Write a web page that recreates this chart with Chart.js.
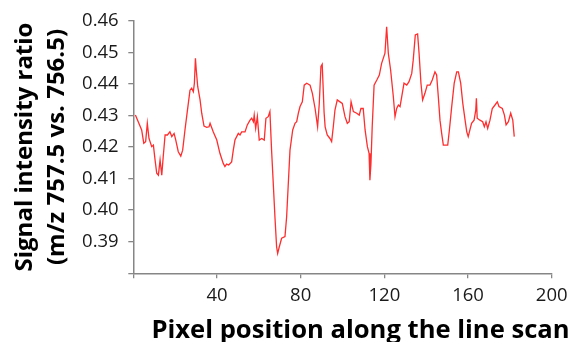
<!DOCTYPE html>
<html>
<head>
<meta charset="utf-8">
<script src="https://cdn.jsdelivr.net/npm/chart.js@4/dist/chart.umd.min.js"></script>
<style>
  html, body { margin: 0; padding: 0; background: #ffffff; }
  #wrap { width: 574px; height: 342px; }
</style>
</head>
<body>
<div id="wrap"><canvas id="scan" width="574" height="342"></canvas></div>
<script>
// Pixel positions along the line scan and the measured intensity ratio at each.
const pixelPosition = [
  1, 4, 5, 5.9, 6.7, 7.5, 8.8, 9.6, 10.4, 11.2, 12, 12.8, 13.6, 14.3, 15.2, 16.3, 17.5, 18.4, 19.5, 20.3,
  21.5, 22.7, 23.6, 24.7, 25.8, 27.1, 27.9, 28.7, 29.2, 29.7, 30.1, 30.8, 31.9, 32.7, 33.8, 35.1, 36.2, 36.7, 38.2, 39.9,
  41.4, 43, 43.8, 44.6, 45.6, 47, 47.8, 48.6, 50.2, 51, 51.8, 53.4, 54.5, 55.8, 56.6, 57.4, 57.8, 58.5, 59.3, 60.2,
  61.4, 62.6, 63.4, 64.5, 65.3, 66.1, 66.9, 67.7, 68.5, 69, 69.8, 70.9, 72.5, 73.3, 74.1, 74.9, 76.2, 77.3, 78.1, 78.9,
  79.7, 80.8, 81.7, 82.9, 84.5, 85.6, 86.9, 88.1, 88.9, 89.7, 90.3, 90.8, 91.2, 91.7, 92.7, 94, 94.8, 95.6, 96.4, 97.5,
  98.8, 99.9, 101.2, 102.3, 103.2, 104.1, 105.2, 106.8, 108, 108.8, 109.9, 110.8, 111.9, 112.7, 113.1, 113.6, 114.2, 115.1, 116.4, 117.6,
  118.7, 120.3, 121.1, 121.9, 123, 124.3, 125.1, 125.9, 126.7, 127.5, 128.3, 129.4, 130.7, 131.8, 133.1, 133.8, 134.8, 135.9, 136.6, 137.5,
  138.3, 139.4, 140.5, 141.8, 142.9, 144.2, 145, 145.8, 146.6, 147.4, 148.2, 149.3, 150.3, 151.1, 152.2, 153.4, 154.6, 155.4, 156.5, 157.5,
  158.6, 159.4, 160.1, 160.9, 161.7, 162.9, 163.7, 164, 164.4, 165.7, 167, 167.8, 168.6, 169.4, 170.5, 171.6, 172.9, 174, 174.8, 176.4,
  177.4, 178.2, 179.3, 180.4, 181.4, 182.1
];

const intensityRatio = [
  0.4301, 0.4254, 0.4212, 0.4217, 0.4275, 0.4227, 0.4201, 0.4206, 0.4159, 0.4117, 0.4111, 0.4159, 0.4111, 0.4169, 0.4238, 0.4238, 0.4248, 0.4233, 0.4243, 0.4222,
  0.4185, 0.4171, 0.4190, 0.4254, 0.4312, 0.4380, 0.4386, 0.4375, 0.4402, 0.4481, 0.4444, 0.4391, 0.4350, 0.4307, 0.4266, 0.4262, 0.4264, 0.4275, 0.4248, 0.4222,
  0.4180, 0.4148, 0.4138, 0.4146, 0.4143, 0.4153, 0.4190, 0.4222, 0.4243, 0.4238, 0.4248, 0.4248, 0.4270, 0.4285, 0.4291, 0.4280, 0.4301, 0.4259, 0.4296, 0.4222,
  0.4227, 0.4222, 0.4291, 0.4296, 0.4312, 0.4190, 0.4085, 0.3979, 0.3884, 0.3863, 0.3884, 0.3911, 0.3916, 0.3979, 0.4085, 0.4190, 0.4254, 0.4275, 0.4280, 0.4307,
  0.4328, 0.4343, 0.4396, 0.4402, 0.4396, 0.4370, 0.4322, 0.4264, 0.4338, 0.4455, 0.4462, 0.4380, 0.4310, 0.4264, 0.4238, 0.4227, 0.4217, 0.4264, 0.4317, 0.4349,
  0.4343, 0.4338, 0.4296, 0.4275, 0.4280, 0.4343, 0.4312, 0.4307, 0.4301, 0.4322, 0.4322, 0.4254, 0.4201, 0.4180, 0.4095, 0.4148, 0.4264, 0.4396, 0.4412, 0.4428,
  0.4465, 0.4497, 0.4581, 0.4497, 0.4444, 0.4359, 0.4296, 0.4322, 0.4333, 0.4328, 0.4359, 0.4402, 0.4396, 0.4407, 0.4433, 0.4475, 0.4555, 0.4558, 0.4497, 0.4402,
  0.4349, 0.4370, 0.4396, 0.4396, 0.4412, 0.4438, 0.4428, 0.4359, 0.4285, 0.4243, 0.4206, 0.4206, 0.4206, 0.4254, 0.4328, 0.4402, 0.4438, 0.4438, 0.4402, 0.4338,
  0.4285, 0.4248, 0.4233, 0.4254, 0.4275, 0.4285, 0.4317, 0.4354, 0.4291, 0.4285, 0.4280, 0.4264, 0.4280, 0.4259, 0.4285, 0.4322, 0.4333, 0.4343, 0.4328, 0.4322,
  0.4301, 0.4270, 0.4280, 0.4307, 0.4285, 0.4233
];

// Axis ranges and titles
const xRange = { min: 0, max: 200, step: 40 };
const yRange = { min: 0.38, max: 0.46, step: 0.01 };
const xTitle = 'Pixel position along the line scan';
const yTitle = ['Signal intensity ratio', '(m/z 757.5 vs. 756.5)'];

const points = pixelPosition.map((x, i) => ({ x: x, y: intensityRatio[i] }));

const axisGray = '#868686';
const textColor = '#1a1a1a';

// Horizontal axis title, set a little right of the plot centre and close to the bottom edge.
const xTitlePlugin = {
  id: 'xAxisTitle',
  afterDraw(chart) {
    const ctx = chart.ctx;
    const sx = chart.scales.x;
    ctx.save();
    ctx.font = 'bold 25.6px "Open Sans"';
    ctx.fillStyle = '#000000';
    ctx.textAlign = 'center';
    ctx.textBaseline = 'middle';
    ctx.fillText(xTitle, (sx.left + sx.right) / 2 + 18, chart.height - 11);
    ctx.restore();
  }
};

new Chart(document.getElementById('scan'), {
  type: 'line',
  data: {
    datasets: [{
      data: points,
      borderColor: 'rgb(255, 45, 45)',
      borderWidth: 1.3,
      pointRadius: 0,
      tension: 0,
      fill: false
    }]
  },
  plugins: [xTitlePlugin],
  options: {
    responsive: false,
    animation: false,
    layout: { padding: { left: 0, right: 22.3, top: 20.7, bottom: 0 } },
    plugins: { legend: { display: false }, tooltip: { enabled: false } },
    scales: {
      x: {
        type: 'linear',
        min: xRange.min,
        max: xRange.max,
        afterFit: s => { s.height = 68.7; },
        ticks: {
          stepSize: xRange.step,
          color: textColor,
          padding: 6,
          font: { family: 'Open Sans', size: 18.5 },
          maxRotation: 0,
          callback: v => (v === 0 ? '' : String(v))
        },
        grid: { drawOnChartArea: false, drawTicks: true, tickLength: 5, color: axisGray, lineWidth: 1.3 },
        border: { display: true, color: axisGray, width: 1.5 },
        title: { display: false }
      },
      y: {
        type: 'linear',
        min: yRange.min,
        max: yRange.max,
        afterFit: s => { s.width = 133.3; },
        ticks: {
          stepSize: yRange.step,
          color: textColor,
          padding: 9.6,
          font: { family: 'Open Sans', size: 18.5 },
          callback: v => (Math.abs(v - yRange.min) < 1e-9 ? '' : v.toFixed(2))
        },
        grid: { drawOnChartArea: false, drawTicks: true, tickLength: 5, color: axisGray, lineWidth: 1.3 },
        border: { display: true, color: axisGray, width: 1.5 },
        title: {
          display: true,
          text: yTitle,
          color: '#000000',
          font: { family: 'Open Sans', size: 24, weight: 'bold', lineHeight: 1.36 },
          padding: { top: 8.5, bottom: 0 }
        }
      }
    }
  }
});
</script>
</body>
</html>
